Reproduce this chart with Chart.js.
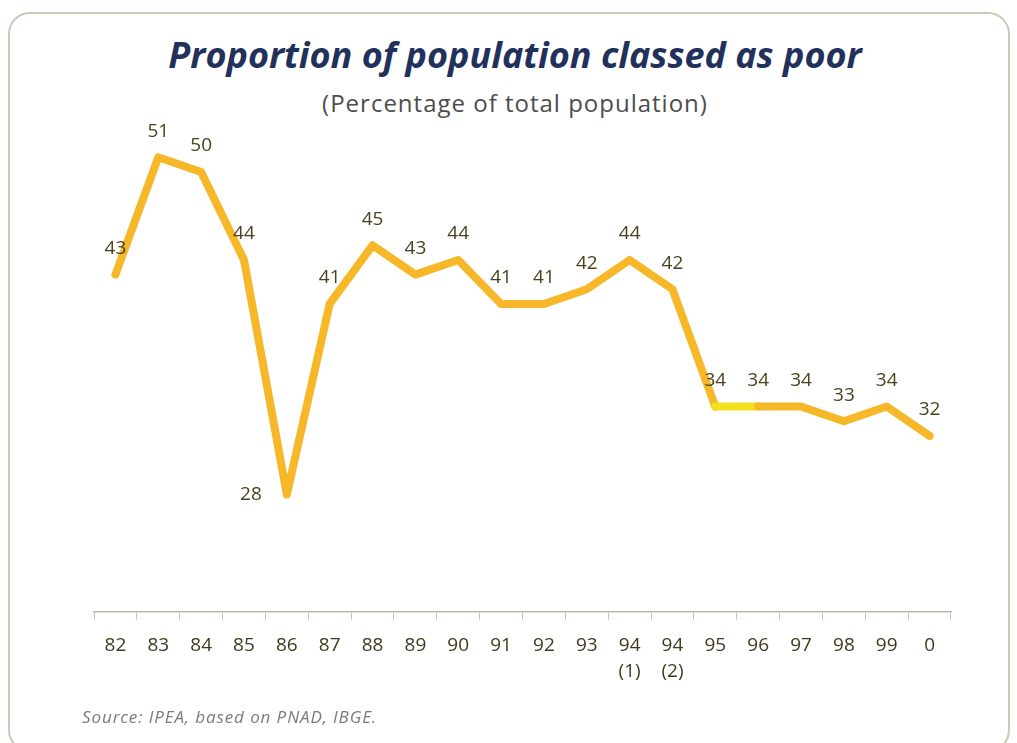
<!DOCTYPE html>
<html>
<head>
<meta charset="utf-8">
<script src="https://cdn.jsdelivr.net/npm/chart.js@4.4.1/dist/chart.umd.min.js"></script>
<style>
  html, body { margin: 0; padding: 0; background: #fff; }
  body { width: 1017px; height: 743px; position: relative; overflow: hidden; font-family: "Open Sans", "Noto Sans", sans-serif; }
  .frame { position: absolute; left: 8px; top: 12px; width: 1002px; height: 740px; border: 2px solid #cfc6b8; border-radius: 22px; box-sizing: border-box; }
  .title { position: absolute; left: 0; width: 1030px; top: 30px; text-align: center; color: #22305c; font-size: 36px; font-weight: bold; font-style: italic; }
  .subtitle { position: absolute; left: 0; width: 1030px; top: 86px; text-align: center; color: #4d4d4d; font-size: 24px; letter-spacing: 1px; }
  .source { position: absolute; left: 82px; top: 705px; color: #7a7a7a; font-size: 17px; font-style: italic; letter-spacing: 0.9px; }
  #wrap { position: absolute; left: 0; top: 0; width: 1017px; height: 743px; }
</style>
</head>
<body>
<div class="frame"></div>
<div class="title">Proportion of population classed as poor</div>
<div class="subtitle">(Percentage of total population)</div>
<div id="wrap"><canvas id="chart"></canvas></div>
<div class="source">Source: IPEA, based on PNAD, IBGE.</div>
<script>
// dati
const years = ["82", "83", "84", "85", "86", "87", "88", "89", "90", "91", "92", "93",
  ["94", "(1)"], ["94", "(2)"], "95", "96", "97", "98", "99", "0"];
const poor = [43, 51, 50, 44, 28, 41, 45, 43, 44, 41, 41, 42, 44, 42, 34, 34, 34, 33, 34, 32];
// dove mettere l'etichetta rispetto al punto
const labelPos = ["above", "above", "above", "above", "left", "above", "above", "above", "above", "above",
  "above", "above", "above", "above", "above", "above", "above", "above", "above", "above"];

const lineColor = "#f6b828";
const brightColor = "#f3e01c";

// plugin semplice per scrivere i valori sopra la linea
const valueLabels = {
  id: "valueLabels",
  afterDatasetsDraw(chart) {
    const ctx = chart.ctx;
    const meta = chart.getDatasetMeta(0);
    ctx.save();
    ctx.font = "19px 'Open Sans', 'Noto Sans', sans-serif";
    ctx.fillStyle = "#4a4220";
    ctx.textBaseline = "middle";
    meta.data.forEach((pt, i) => {
      const v = poor[i];
      if (labelPos[i] === "left") {
        ctx.textAlign = "right";
        ctx.fillText(v, pt.x - 25, pt.y);
      } else {
        ctx.textAlign = "center";
        ctx.fillText(v, pt.x, pt.y - 26);
      }
    });
    ctx.restore();
  }
};

new Chart(document.getElementById("chart"), {
  type: "line",
  data: {
    labels: years,
    datasets: [{
      data: poor,
      borderColor: lineColor,
      borderWidth: 8,
      borderJoinStyle: "round",
      borderCapStyle: "round",
      pointRadius: 0,
      tension: 0,
      segment: {
        borderColor: (c) => (c.p0DataIndex === 14 ? brightColor : lineColor)
      }
    }]
  },
  options: {
    animation: false,
    responsive: true,
    maintainAspectRatio: false,
    layout: { padding: { left: 94, right: 66, top: 84, bottom: 46 } },
    plugins: { legend: { display: false }, tooltip: { enabled: false } },
    scales: {
      x: {
        offset: true,
        border: { display: true, color: "#bdb8ae", width: 1.5 },
        grid: { display: true, offset: true, drawOnChartArea: false, drawTicks: true, tickLength: 8, color: "#c8c3b8" },
        ticks: { color: "#3f3a20", font: { size: 19, lineHeight: 1.4, family: "'Open Sans', 'Noto Sans', sans-serif" }, padding: 12, maxRotation: 0, autoSkip: false }
      },
      y: {
        display: false,
        min: 20,
        max: 56
      }
    }
  },
  plugins: [valueLabels]
});
</script>
</body>
</html>
